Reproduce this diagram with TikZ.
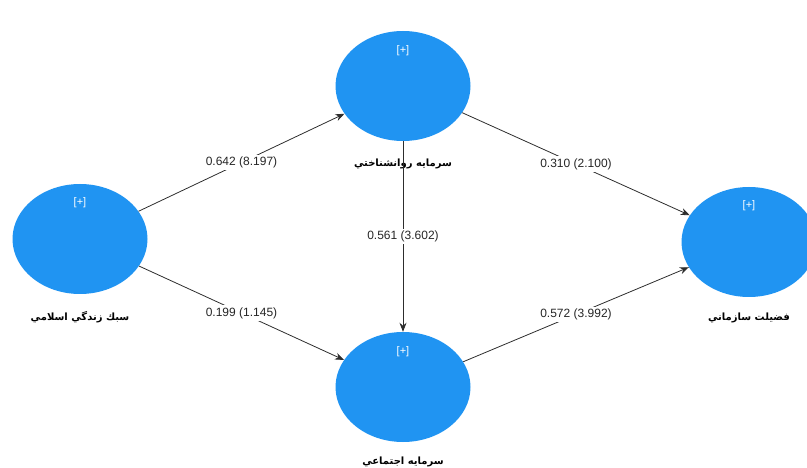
\documentclass[tikz,border=0pt]{standalone}
\usepackage{fontspec}
\setmainfont{Liberation Sans}
\newfontfamily\arabicfont[Script=Arabic]{DejaVu Sans}
\TeXXeTstate=1
\usetikzlibrary{shapes.geometric,arrows.meta}
\definecolor{lvblue}{RGB}{32,148,242}
\definecolor{edgegray}{RGB}{45,45,45}
\tikzset{
  lv/.style={ellipse, fill=lvblue, draw=none, minimum width=135pt, minimum height=110pt, inner sep=0pt},
  plus/.style={text=white, font=\fontsize{11}{12}\selectfont},
  lvname/.style={font=\arabicfont\bfseries\fontsize{10}{11}\selectfont, text=black},
  coef/.style={fill=white, inner sep=2pt, font=\fontsize{12}{13}\selectfont, text=black!85},
  path/.style={draw=edgegray, line width=0.8pt, -{Stealth[length=9pt,width=7pt]}}
}
\begin{document}
\begin{tikzpicture}[x=1pt,y=-1pt]
\useasboundingbox (0,0) rectangle (807,468);
% latent variables
\node[lv] (L) at (80,239) {};
\node[lv] (T) at (403,86) {};
\node[lv] (B) at (403,387) {};
\node[lv] (R) at (749,242) {};
\node[plus] (pL) at (80,203) {[+]};
\node[plus] (pT) at (403,51) {[+]};
\node[plus] (pB) at (403,352) {[+]};
\node[plus] (pR) at (749,206) {[+]};
\node[lvname] (nL) at (80,317) {\beginR سبك زندگي اسلامي\endR};
\node[lvname] (nT) at (403,164) {\beginR سرمايه روانشناختي\endR};
\node[lvname] (nB) at (403,462) {\beginR سرمايه اجتماعي\endR};
\node[lvname] (nR) at (749,318) {\beginR فضيلت سازماني\endR};
% paths
\draw[path] (L) -- node[coef] (c1) {0.642 (8.197)} (T);
\draw[path] (L) -- node[coef] (c2) {0.199 (1.145)} (B);
\draw[path] (T) -- node[coef] (c3) {0.310 (2.100)} (R);
\draw[path] (B) -- node[coef] (c4) {0.572 (3.992)} (R);
\draw[path] (T) -- node[coef] (c5) {0.561 (3.602)} (B);
\end{tikzpicture}
\end{document}
